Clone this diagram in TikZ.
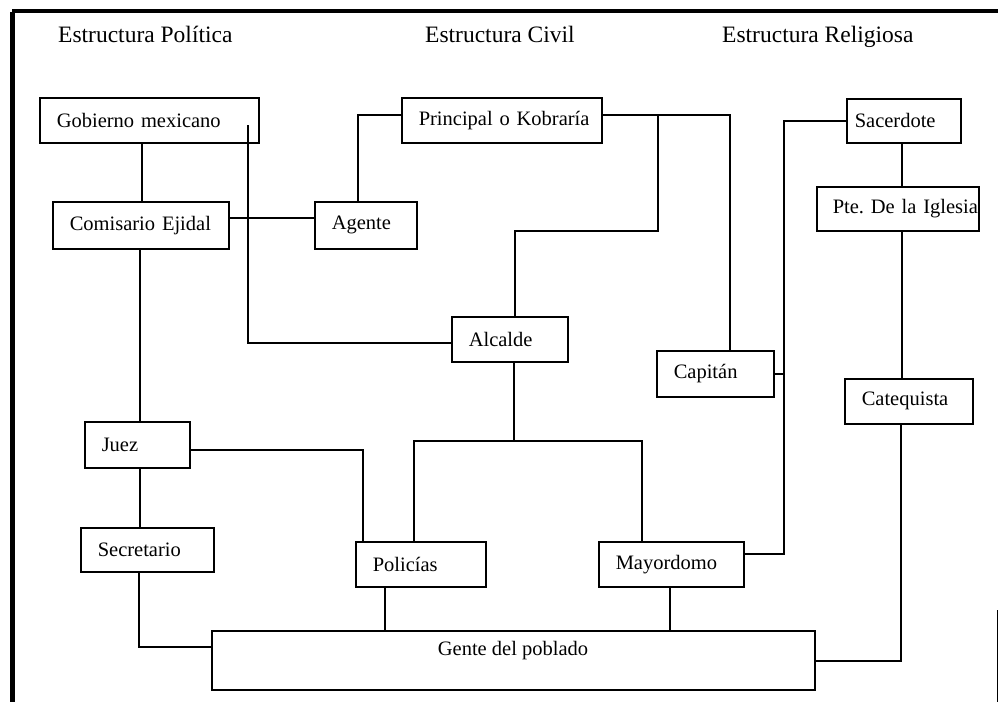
\documentclass[tikz,border=0pt]{standalone}
\usepackage{fontspec}
\setmainfont{Liberation Serif}
\frenchspacing
\begin{document}
\begin{tikzpicture}[x=1pt,y=-1pt,
  box/.style={draw, line width=1.5pt, anchor=north west, inner ysep=0pt, inner xsep=#1, align=left, font=\fontsize{20.5}{25}\selectfont},
  box/.default=17pt,
  conn/.style={line width=1.5pt},
  title/.style={anchor=base west, inner sep=0pt, font=\fontsize{23.5}{28}\selectfont},
  lbl/.style={inner sep=0pt, font=\fontsize{20.5}{25}\selectfont}]
\fill[white] (0,0) rectangle (998,702);
\useasboundingbox (0,0) rectangle (998,702);
% frame
\draw[line width=4pt] (12,11) -- (998,11);
\draw[line width=5pt] (12.5,12) -- (12.5,702);
\draw[line width=1pt] (997,610) -- (997,702);
% titles
\node[title] (t1) at (58,42) {Estructura Política};
\node[title] (t2) at (425,42) {Estructura Civil};
\node[title] (t3) at (722,42) {Estructura Religiosa};
% boxes
\node[box, text width=185pt, minimum height=45pt] (gob) at (39,97) {\mbox{Gobierno mexicano}};
\node[box, text width=166pt, minimum height=45pt] (prin) at (401,97) {\mbox{Principal o Kobraría}};
\node[box=8pt, text width=98pt, minimum height=44pt] (sac) at (846,98) {\mbox{Sacerdote}};
\node[box, text width=142pt, minimum height=47pt] (com) at (52,201) {\mbox{Comisario Ejidal}};
\node[box, text width=68pt, minimum height=47pt] (age) at (314,201) {\mbox{Agente}};
\node[box=16pt, text width=130pt, minimum height=44pt] (pte) at (816,186) {\mbox{Pte. De la Iglesia}};
\node[box, text width=82pt, minimum height=45pt] (alc) at (451,316) {\mbox{Alcalde}};
\node[box, text width=83pt, minimum height=46pt] (cap) at (656,350) {\mbox{Capitán}};
\node[box, text width=94pt, minimum height=45pt] (cat) at (844,378) {\mbox{Catequista}};
\node[box, text width=71pt, minimum height=46pt] (juez) at (84,421) {\mbox{Juez}};
\node[box, text width=99pt, minimum height=44pt] (sec) at (80,527) {\mbox{Secretario}};
\node[box, text width=96pt, minimum height=45pt] (pol) at (355,541) {\mbox{Policías}};
\node[box, text width=111pt, minimum height=45pt] (may) at (598,541) {\mbox{Mayordomo}};
\node[box=0pt, minimum width=603pt, minimum height=59pt] (gente) at (211,630) {};
\node[lbl, anchor=base] (gentet) at (513,655) {Gente del poblado};
% junction coordinates
\coordinate (gj) at (248,125);
\coordinate (pj) at (658,115);
\coordinate (cj) at (784,374);
\coordinate (aj) at (514,441);
% connectors
\draw[conn] (gob.south -| 142,0) -- (com.north -| 142,0);
\draw[conn] (com.east |- 0,218) -- (age.west |- 0,218);
\draw[conn] (age.north -| 358,0) |- (prin.west |- 0,115);
\draw[conn] (gj) |- (alc.west |- 0,343);
\draw[conn] (prin.east |- 0,115) -| (cap.north -| 730,0);
\draw[conn] (pj) |- (515,231) -- (alc.north -| 515,0);
\draw[conn] (sac.west |- 0,121) -| (cj) |- (may.east |- 0,554);
\draw[conn] (cap.east |- 0,374) -- (cj);
\draw[conn] (sac.south -| 902,0) -- (pte.north -| 902,0);
\draw[conn] (pte.south -| 902,0) -- (cat.north -| 902,0);
\draw[conn] (cat.south -| 901,0) |- (gente.east |- 0,661);
\draw[conn] (com.south -| 140,0) -- (juez.north -| 140,0);
\draw[conn] (juez.south -| 140,0) -- (sec.north -| 140,0);
\draw[conn] (juez.east |- 0,450) -| (pol.north -| 363,0);
\draw[conn] (alc.south -| 514,0) -- (aj);
\draw[conn] (pol.north -| 414,0) |- (aj) -| (may.north -| 642,0);
\draw[conn] (sec.south -| 139,0) |- (gente.west |- 0,647);
\draw[conn] (pol.south -| 385,0) -- (gente.north -| 385,0);
\draw[conn] (may.south -| 670,0) -- (gente.north -| 670,0);
\end{tikzpicture}
\end{document}
